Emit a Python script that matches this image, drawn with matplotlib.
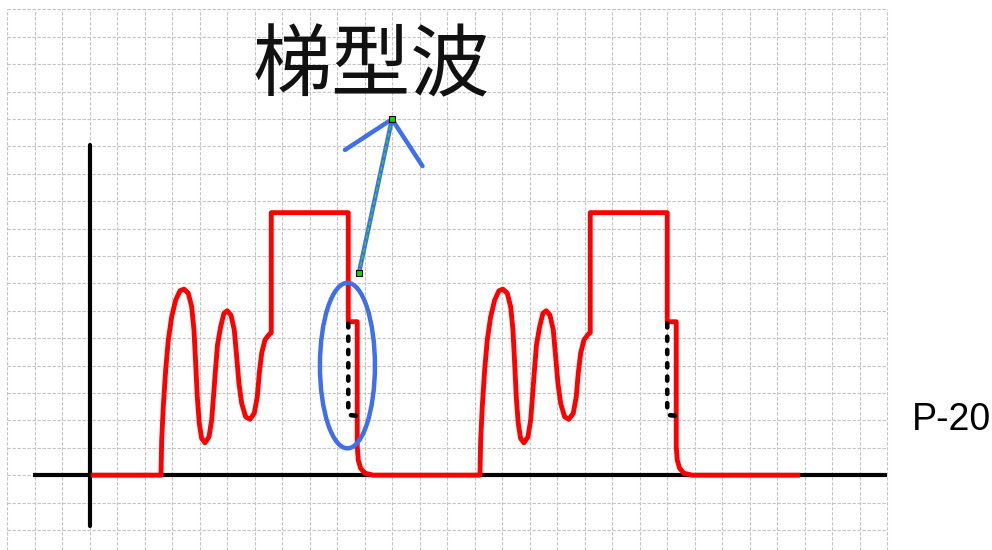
import matplotlib
matplotlib.use("Agg")
from matplotlib import pyplot as plt
from matplotlib.patches import Ellipse
import numpy as np

# all values in grid cells, y = 0 on the horizontal axis
pulse_x = [5.589, 5.615, 5.673, 5.760, 5.855, 5.978, 6.124, 6.280, 6.425, 6.582, 6.705, 6.789,
           6.851, 6.909, 6.982, 7.069, 7.189, 7.335, 7.433, 7.498, 7.571, 7.644, 7.760, 7.880,
           8.000, 8.135, 8.255, 8.342, 8.425, 8.524, 8.669, 8.825, 8.982, 9.091, 9.164, 9.251,
           9.371, 9.527, 9.600, 9.600, 12.40, 12.40, 12.727, 12.727, 12.764, 12.851, 13.007,
           13.189, 13.30]
pulse_y = [0.0, 1.28, 2.50, 3.84, 4.93, 5.78, 6.39, 6.73, 6.79, 6.64, 6.15, 5.30,
           4.08, 2.86, 1.89, 1.34, 1.18, 1.40, 2.01, 2.86, 3.84, 4.75, 5.42, 5.91,
           6.00, 5.84, 5.30, 4.32, 3.35, 2.62, 2.13, 2.04, 2.26, 2.86, 3.72, 4.45,
           4.94, 5.14, 5.20, 9.58, 9.58, 5.60, 5.60, 1.04, 0.55, 0.25, 0.07,
           0.03, 0.0]
pulse_starts = [0.0, 11.6]
trace_start = 3.05
trace_end = 28.83

# dotted black edge inside each pulse, with its short foot
dots_x = [12.40, 12.40, 12.43]
dots_y = [5.54, 2.46, 2.30]
foot_x = [12.50, 12.68]
foot_y = [2.19, 2.17]

# blue ellipse and arrow
ell_center = (12.37, 4.0)
ell_w, ell_h = 2.0, 6.04
arrow_tail = (12.79, 7.39)
arrow_tip = (13.99, 12.99)
head_left = (12.28, 11.87)
head_right = (15.10, 11.28)

title = "梯型波"
page = "P-20"

n_cols, top_row, bottom_row = 32, 17, -2

fig = plt.figure(figsize=(9.92, 5.5), dpi=100)
ax = fig.add_axes([0, 0, 1, 1])
ax.set_xlim(-0.265, 35.81)
ax.set_ylim(-2.73, 17.34)
ax.axis("off")

grid_kw = dict(color="#c4c4c4", lw=0.8, linestyle=(0, (3, 1.5)), zorder=0)
ax.vlines(np.arange(0, n_cols + 1), -2.73, top_row, **grid_kw)
ax.hlines(np.arange(bottom_row, top_row + 1), 0, n_cols, **grid_kw)

# axes
ax.plot([0.95, 32], [0, 0], color="black", lw=3, solid_capstyle="butt", zorder=2)
ax.plot([3.0, 3.0], [-1.85, 12.05], color="black", lw=3, solid_capstyle="round", zorder=2)

# red trace
xs = [trace_start]
ys = [0.0]
for s in pulse_starts:
    xs += [x + s for x in pulse_x]
    ys += pulse_y
xs.append(trace_end)
ys.append(0.0)
ax.plot(xs, ys, color="#ff0000", lw=3.5, solid_joinstyle="round", solid_capstyle="butt", zorder=3)

for s in pulse_starts:
    ax.plot([x + s for x in dots_x], dots_y, color="black", lw=3.3,
            linestyle=(0, (0.9, 2.0)), dash_capstyle="round", zorder=4)
    ax.plot([x + s for x in foot_x], foot_y, color="black", lw=3.3,
            solid_capstyle="round", zorder=4)

blue = "#3f6fea"
ax.add_patch(Ellipse(ell_center, ell_w, ell_h, fill=False, ec=blue, lw=3.2, zorder=5))
ax.plot([arrow_tail[0], arrow_tip[0]], [arrow_tail[1], arrow_tip[1]], color=blue, lw=3.2,
        solid_capstyle="round", zorder=5)
ax.plot([head_left[0], arrow_tip[0], head_right[0]], [head_left[1], arrow_tip[1], head_right[1]],
        color=blue, lw=3.2, solid_capstyle="round", solid_joinstyle="round", zorder=5)
ax.plot([arrow_tail[0], arrow_tip[0]], [arrow_tail[1], arrow_tip[1]], color="#22dd22", lw=1,
        linestyle=(0, (3, 2)), zorder=6)
ax.plot([arrow_tail[0], arrow_tip[0]], [arrow_tail[1], arrow_tip[1]], linestyle="none",
        marker="s", ms=5, mfc="#00dd00", mec="black", mew=0.8, zorder=7)

ax.text(13.23, 14.86, title, fontsize=57, ha="center", va="center",
        family=["Noto Sans CJK SC", "DejaVu Sans"], weight="light", color="#111111")
ax.text(34.32, 1.65, page, fontsize=27, ha="center", va="baseline",
        family="Liberation Sans", color="black")

fig.savefig("out.png", dpi=100)
